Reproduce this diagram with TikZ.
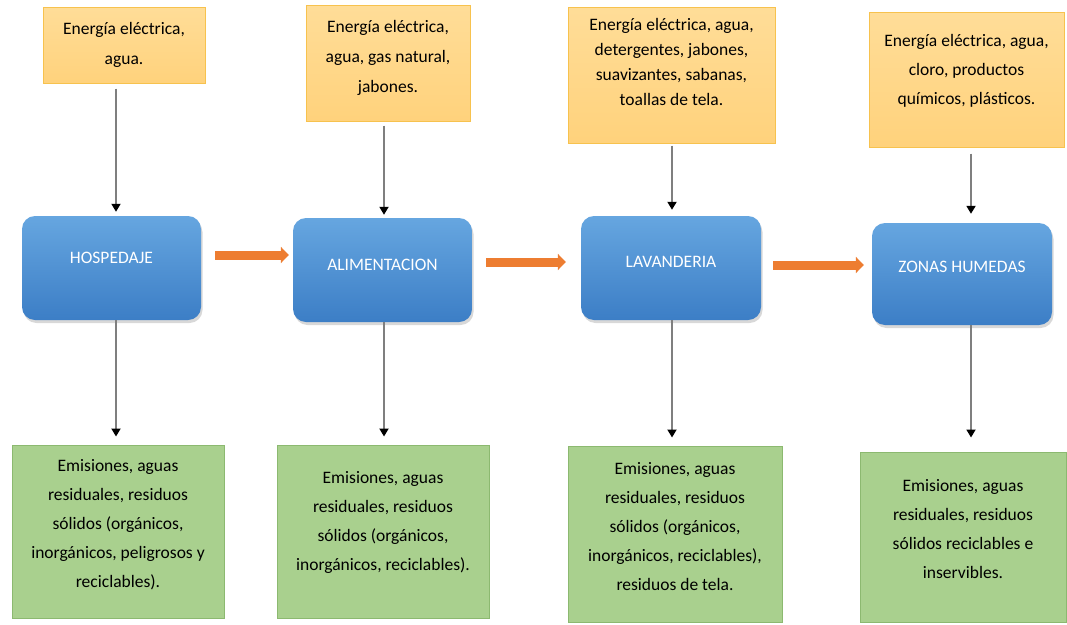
\documentclass[tikz,border=0pt]{standalone}
\usepackage{fontspec}
\setmainfont{Carlito}
\usetikzlibrary{arrows.meta,shadows}
\definecolor{otop}{HTML}{FFDD98}
\definecolor{obot}{HTML}{FFD27C}
\definecolor{oline}{HTML}{F7C24E}
\definecolor{btop}{HTML}{66A6E0}
\definecolor{bbot}{HTML}{3C7EC6}
\definecolor{gfill}{HTML}{A9D08E}
\definecolor{gline}{HTML}{8CB970}
\definecolor{arrorange}{HTML}{ED7D31}
\definecolor{arrgray}{HTML}{7F7F7F}
\newcommand\bt[4]{\vbox{\hsize=#1\centering\baselineskip=#3\relax #4\par\kern#2\relax}}
\tikzset{
  inbox/.style={draw=oline, line width=1pt, top color=otop, bottom color=obot, inner sep=0pt, text=black},
  procbox/.style={rounded corners=13pt, top color=btop, bottom color=bbot, inner sep=0pt, text=white,
     drop shadow={shadow xshift=1.5pt, shadow yshift=-3pt, opacity=0.25, fill=black!60}},
  outbox/.style={draw=gline, line width=1pt, fill=gfill, inner sep=0pt, text=black},
  flow/.style={draw=arrorange, line width=9pt, -{Triangle[width=16pt,length=8pt]}},
  down/.style={draw=arrgray, line width=1.8pt, -{Triangle[width=9pt,length=8pt,color=black]}}
}
\begin{document}
\begin{tikzpicture}[x=1pt,y=-1pt,font=\fontsize{17.5}{29}\selectfont]
\fill[white] (0,0) rectangle (1067,624);
\useasboundingbox (0,0) rectangle (1067,624);

% inputs
\node[inbox, minimum width=162pt, minimum height=76pt] (O1) at (124,45)
  {\bt{160pt}{0pt}{30pt}{Energía eléctrica,\\agua.}};
\node[inbox, minimum width=164pt, minimum height=116pt] (O2) at (388,63)
  {\bt{162pt}{10pt}{30pt}{Energía eléctrica,\\agua, gas natural,\\jabones.}};
\node[inbox, minimum width=207pt, minimum height=136pt] (O3) at (671.5,75)
  {\bt{205pt}{26pt}{25pt}{Energía eléctrica, agua,\\detergentes, jabones,\\suavizantes, sabanas,\\toallas de tela.}};
\node[inbox, minimum width=195pt, minimum height=135pt] (O4) at (966.5,79.5)
  {\bt{193pt}{17pt}{29pt}{Energía eléctrica, agua,\\cloro, productos\\químicos, plásticos.}};

% processes
\node[procbox, minimum width=179pt, minimum height=104pt] (B1) at (111.5,268)
  {\bt{177pt}{20pt}{29pt}{HOSPEDAJE}};
\node[procbox, minimum width=179pt, minimum height=104pt] (B2) at (382.5,270)
  {\bt{177pt}{10pt}{29pt}{ALIMENTACION}};
\node[procbox, minimum width=180pt, minimum height=104pt] (B3) at (671,268)
  {\bt{178pt}{12pt}{29pt}{LAVANDERIA}};
\node[procbox, minimum width=180pt, minimum height=102pt] (B4) at (962,274)
  {\bt{178pt}{14pt}{29pt}{ZONAS HUMEDAS}};

% outputs
\node[outbox, minimum width=212pt, minimum height=173pt] (G1) at (118,531.5)
  {\bt{210pt}{13pt}{29pt}{Emisiones, aguas\\residuales, residuos\\sólidos (orgánicos,\\inorgánicos, peligrosos y\\reciclables).}};
\node[outbox, minimum width=212pt, minimum height=173pt] (G2) at (383,531.5)
  {\bt{210pt}{19pt}{29pt}{Emisiones, aguas\\residuales, residuos\\sólidos (orgánicos,\\inorgánicos, reciclables).}};
\node[outbox, minimum width=214pt, minimum height=176pt] (G3) at (675,534)
  {\bt{212pt}{14pt}{29pt}{Emisiones, aguas\\residuales, residuos\\sólidos (orgánicos,\\inorgánicos, reciclables),\\residuos de tela.}};
\node[outbox, minimum width=206pt, minimum height=170pt] (G4) at (963,537)
  {\bt{204pt}{16pt}{29pt}{Emisiones, aguas\\residuales, residuos\\sólidos reciclables e\\inservibles.}};

% column and row guides for connectors
\coordinate (c1) at (116,0);
\coordinate (c2) at (384,0);
\coordinate (c3) at (672,0);
\coordinate (c4) at (971,0);
\coordinate (r1) at (0,255);
\coordinate (r2) at (0,262);
\coordinate (r3) at (0,265);

% input arrows
\draw[down, shorten <=5pt, shorten >=4pt] (O1.south -| c1) -- (B1.north -| c1);
\draw[down, shorten <=4pt, shorten >=3pt] (O2.south -| c2) -- (B2.north -| c2);
\draw[down, shorten <=2pt, shorten >=6pt] (O3.south -| c3) -- (B3.north -| c3);
\draw[down, shorten <=6pt, shorten >=9pt] (O4.south -| c4) -- (B4.north -| c4);

% output arrows
\draw[down, shorten >=8pt] (B1.south -| c1) -- (G1.north -| c1);
\draw[down, shorten >=8pt] (B2.south -| c2) -- (G2.north -| c2);
\draw[down, shorten >=8pt] (B3.south -| c3) -- (G3.north -| c3);
\draw[down, shorten >=14pt] (B4.south -| c4) -- (G4.north -| c4);

% process flow
\draw[flow, shorten <=14pt, shorten >=4pt] (B1.east |- r1) -- (B2.west |- r1);
\draw[flow, shorten <=14pt, shorten >=15pt] (B2.east |- r2) -- (B3.west |- r2);
\draw[flow, shorten <=12pt, shorten >=8pt] (B3.east |- r3) -- (B4.west |- r3);
\end{tikzpicture}
\end{document}
